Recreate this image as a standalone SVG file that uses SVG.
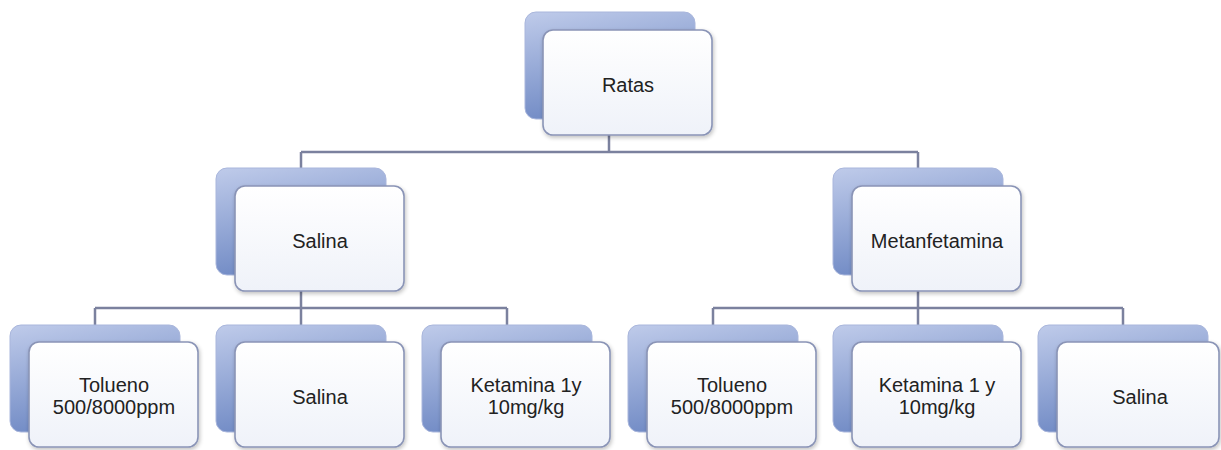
<svg xmlns="http://www.w3.org/2000/svg" width="1221" height="450" viewBox="0 0 1221 450">
<defs>
<linearGradient id="gBack" x1="0" y1="0" x2="0.3" y2="1">
<stop offset="0" stop-color="#bfcbea"/>
<stop offset="1" stop-color="#6f89c4"/>
</linearGradient>
<linearGradient id="gFront" x1="0" y1="0" x2="0" y2="1">
<stop offset="0" stop-color="#ffffff"/>
<stop offset="1" stop-color="#eff2f9"/>
</linearGradient>
<filter id="sh" x="-10%" y="-10%" width="130%" height="130%">
<feGaussianBlur in="SourceAlpha" stdDeviation="2"/>
<feOffset dx="1" dy="2"/>
<feComponentTransfer><feFuncA type="linear" slope="0.25"/></feComponentTransfer>
<feMerge><feMergeNode/><feMergeNode in="SourceGraphic"/></feMerge>
</filter>
</defs>
<style>
.back{fill:url(#gBack);stroke:#a9b6dc;stroke-width:1}
.front{fill:url(#gFront);stroke:#8a94b6;stroke-width:1.6}
.conn{fill:none;stroke:#7b819e;stroke-width:2.5}
text{font-family:"Liberation Sans",Arial,sans-serif;font-size:20px;fill:#222;text-anchor:middle}
</style>
<g id="connectors">
<path class="conn" d="M609 135V152M301 152H918M301 152V168M918 152V168"/>
<path class="conn" d="M301 291V308M95 308H507M95 308V325M301 308V325M507 308V325"/>
<path class="conn" d="M918 291V308M713 308H1123M713 308V325M918 308V325M1123 308V325"/>
</g>
<g id="ratas">
<rect class="back" x="525" y="12" width="170" height="107" rx="11"/>
<rect class="front" x="543" y="30" width="169" height="105" rx="10" filter="url(#sh)"/>
<text x="628" y="92">Ratas</text>
</g>
<g id="salina-mid">
<rect class="back" x="216" y="168" width="170" height="107" rx="11"/>
<rect class="front" x="235" y="186" width="169" height="105" rx="10" filter="url(#sh)"/>
<text x="320" y="248">Salina</text>
</g>
<g id="metanfetamina">
<rect class="back" x="833" y="168" width="170" height="107" rx="11"/>
<rect class="front" x="852" y="186" width="169" height="105" rx="10" filter="url(#sh)"/>
<text x="937" y="248">Metanfetamina</text>
</g>
<g id="tolueno1">
<rect class="back" x="10" y="325" width="170" height="107" rx="11"/>
<rect class="front" x="29" y="342" width="169" height="105" rx="10" filter="url(#sh)"/>
<text x="114" y="392">Tolueno</text>
<text x="114" y="414">500/8000ppm</text>
</g>
<g id="salina1">
<rect class="back" x="216" y="325" width="170" height="107" rx="11"/>
<rect class="front" x="235" y="342" width="169" height="105" rx="10" filter="url(#sh)"/>
<text x="320" y="404">Salina</text>
</g>
<g id="ketamina1">
<rect class="back" x="422" y="325" width="170" height="107" rx="11"/>
<rect class="front" x="441" y="342" width="169" height="105" rx="10" filter="url(#sh)"/>
<text x="526" y="392">Ketamina 1y</text>
<text x="526" y="414">10mg/kg</text>
</g>
<g id="tolueno2">
<rect class="back" x="628" y="325" width="170" height="107" rx="11"/>
<rect class="front" x="647" y="342" width="169" height="105" rx="10" filter="url(#sh)"/>
<text x="732" y="392">Tolueno</text>
<text x="732" y="414">500/8000ppm</text>
</g>
<g id="ketamina2">
<rect class="back" x="833" y="325" width="170" height="107" rx="11"/>
<rect class="front" x="852" y="342" width="169" height="105" rx="10" filter="url(#sh)"/>
<text x="937" y="392">Ketamina 1 y</text>
<text x="937" y="414">10mg/kg</text>
</g>
<g id="salina2">
<rect class="back" x="1038" y="325" width="170" height="107" rx="11"/>
<rect class="front" x="1057" y="342" width="162" height="105" rx="10" filter="url(#sh)"/>
<text x="1140" y="404">Salina</text>
</g>
</svg>
